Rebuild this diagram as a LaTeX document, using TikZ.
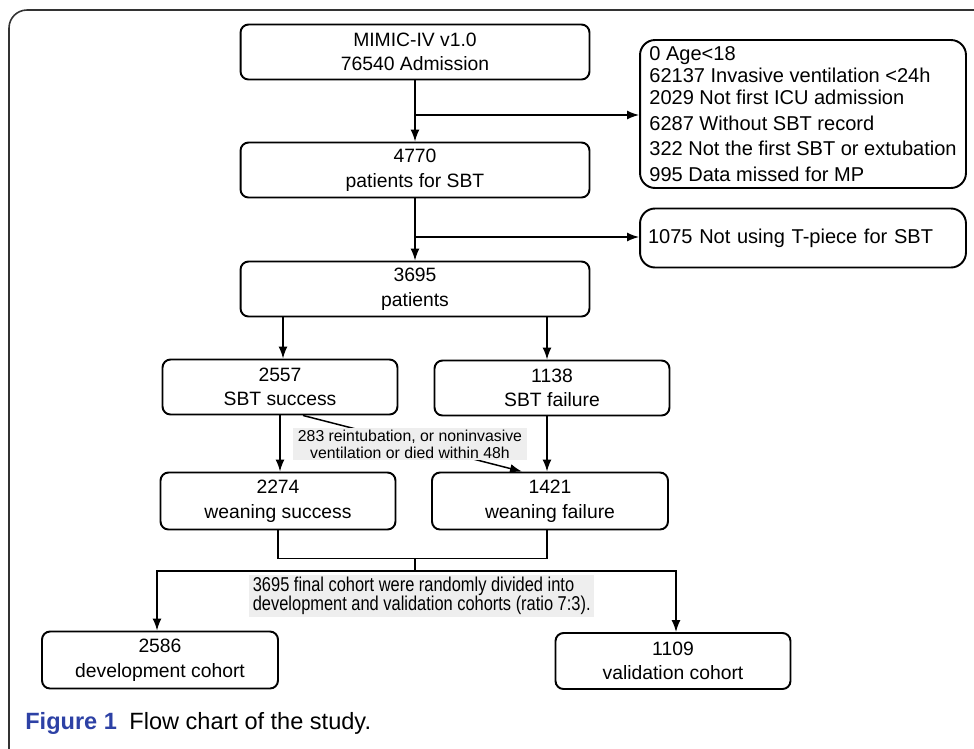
\documentclass[tikz,border=0pt]{standalone}
\usepackage{xcolor}
\usepackage{fontspec}
\setmainfont{Liberation Sans}
\newfontfamily\narrowsf[FakeStretch=0.82]{Liberation Sans}
\usetikzlibrary{arrows.meta}

\definecolor{figblue}{RGB}{45,65,165}
\definecolor{notegray}{RGB}{238,238,238}

\tikzset{
  box/.style={draw, rounded corners=0.16cm, line width=1.1pt, align=center,
    minimum height=1.1cm, font=\fontsize{11}{14}\selectfont},
  exclbox/.style={draw, rounded corners=0.3cm, line width=1.1pt, align=left,
    minimum width=6.52cm, inner xsep=0.15cm, font=\fontsize{11.4}{12.5}\selectfont},
  note/.style={fill=notegray, align=center, inner xsep=3pt, inner ysep=1pt,
    font=\fontsize{9}{9.6}\selectfont},
  arr/.style={line width=0.85pt, -{Latex[length=2.4mm, width=1.8mm]}},
  link/.style={line width=0.85pt}
}

\begin{document}
\begin{tikzpicture}[x=0.02cm, y=-0.02cm]
  \useasboundingbox (0,0) rectangle (974,748);
  \begin{scope}
    \clip (0,0) rectangle (974,748);
    \draw[rounded corners=0.36cm, line width=0.9pt, black!80] (9,10) rectangle (1010,780);
  \end{scope}

  % boxes
  \node[box, minimum width=6.98cm] (admit) at (415,52) {MIMIC-IV v1.0\\76540 Admission};
  \node[exclbox, minimum height=2.96cm] (excl1) at (803,114)
    {0 Age<18\\62137 Invasive ventilation <24h\\2029 Not first ICU admission\\[2pt]
     6287 Without SBT record\\[2pt]322 Not the first SBT or extubation\\[2pt]995 Data missed for MP};
  \node[box, minimum width=6.98cm] (sbtpts) at (415,170) {4770\\patients for SBT};
  \node[exclbox, text width=6.2cm, minimum height=1.18cm] (excl2) at (803,238) {1075 Not using T-piece for SBT};
  \node[box, minimum width=6.98cm] (pts) at (415,289) {3695\\patients};
  \node[box, minimum width=4.7cm] (sbtok) at (280,387) {2557\\SBT success};
  \node[box, minimum width=4.7cm] (sbtfail) at (552,388) {1138\\SBT failure};
  \node[box, minimum width=4.7cm, minimum height=1.14cm] (weanok) at (278,501) {2274\\weaning success};
  \node[box, minimum width=4.72cm, minimum height=1.14cm] (weanfail) at (550,501) {1421\\weaning failure};
  \node[box, minimum width=4.72cm, minimum height=1.14cm] (dev) at (160,660) {2586\\development cohort};
  \node[box, minimum width=4.7cm, minimum height=1.12cm] (valid) at (673,661) {1109\\validation cohort};

  % exclusions
  \coordinate (b1) at (415,115);
  \coordinate (b2) at (415,237);
  \draw[arr] (admit) -- (sbtpts);
  \draw[arr] (b1) -- (b1 -| excl1.west);
  \draw[arr] (sbtpts) -- (pts);
  \draw[arr] (b2) -- (b2 -| excl2.west);

  % SBT
  \draw[arr] ([xshift=0.06cm]sbtok.north |- pts.south) -- ([xshift=0.06cm]sbtok.north);
  \draw[arr] ([xshift=-0.1cm]sbtfail.north |- pts.south) -- ([xshift=-0.1cm]sbtfail.north);
  \draw[arr] (sbtok.south) -- (sbtok.south |- weanok.north);
  \draw[arr] ([xshift=-0.1cm]sbtfail.south) -- ([xshift=-0.1cm]sbtfail.south |- weanfail.north);
  \draw[arr] ([xshift=0.46cm]sbtok.south) -- ([xshift=-0.56cm]weanfail.north);
  \node[note] (reint) at (410,444) {283 reintubation, or noninvasive\\ventilation or died within 48h};

  % split
  \coordinate (merge) at (415,558);
  \coordinate (split) at (415,571);
  \draw[link] (weanok.south) -- ++(0,28) -| ([xshift=-0.06cm]weanfail.south);
  \draw[link] (merge) -- (split);
  \draw[arr] (split) -| ([xshift=-0.06cm]dev.north);
  \draw[arr] (split) -| ([xshift=0.06cm]valid.north);
  \node[note, anchor=west, align=left, inner xsep=2pt, font=\narrowsf\fontsize{11.4}{11}\selectfont] (divide) at (249,596)
    {3695 final cohort were randomly divided into\\development and validation cohorts (ratio 7:3).};

  % caption
  \node[anchor=west, font=\fontsize{13.4}{15}\selectfont, inner sep=0pt] (caption) at (25,723)
    {\textcolor{figblue}{\bfseries Figure 1}\hspace{0.25cm}Flow chart of the study.};
\end{tikzpicture}
\end{document}
